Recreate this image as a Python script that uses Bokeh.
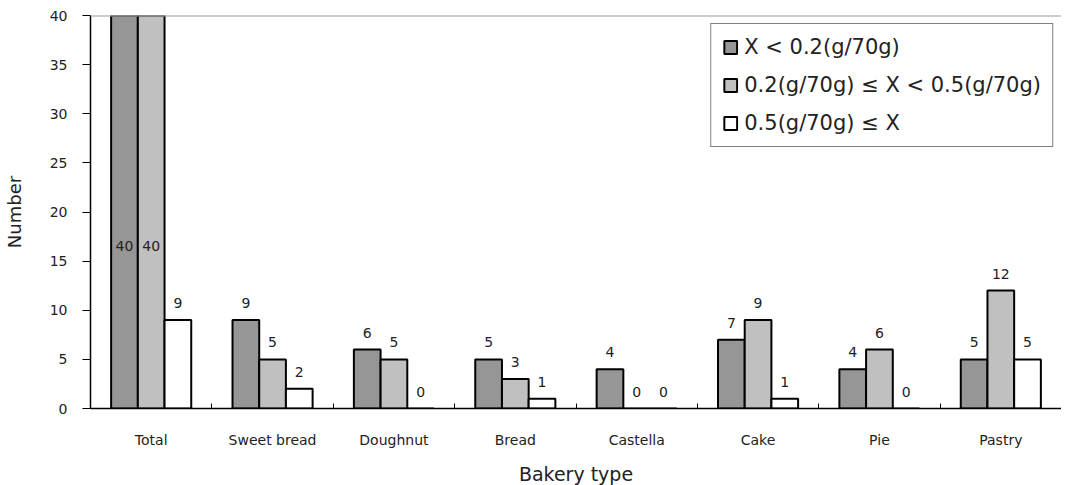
from bokeh.plotting import figure
from bokeh.models import (ColumnDataSource, Range1d, LinearAxis, FixedTicker,
                          SingleIntervalTicker, Span, Legend)
from bokeh.transform import dodge
from bokeh.core.properties import value
from bokeh.embed import file_html
from bokeh.resources import INLINE

# ---- data ----
categories = ["Total", "Sweet bread", "Doughnut", "Bread", "Castella", "Cake", "Pie", "Pastry"]
low = [40, 9, 6, 5, 4, 7, 4, 5]        # X < 0.2 (g/70g)
mid = [40, 5, 5, 3, 0, 9, 6, 12]       # 0.2 <= X < 0.5
high = [9, 2, 0, 1, 0, 1, 0, 5]        # 0.5 <= X
series_names = ["X < 0.2(g/70g)", "0.2(g/70g) \u2264 X < 0.5(g/70g)", "0.5(g/70g) \u2264 X"]
series_colors = ["#969696", "#c0c0c0", "#ffffff"]
y_max = 40
y_step = 5

FONT = "DejaVu Sans"
TXT = "#222222"

idx = list(range(len(categories)))
bar_w = 0.22
offsets = [-bar_w, 0.0, bar_w]

p = figure(width=1051, height=476, output_backend="svg", toolbar_location=None,
           x_range=Range1d(-0.5, len(categories) - 0.5), y_range=Range1d(0, y_max),
           min_border_left=86, min_border_top=15, min_border_right=0,
           frame_width=971, frame_height=393, x_axis_type=None, y_axis_type=None)
p.outline_line_color = None
p.xgrid.visible = False
p.ygrid.visible = False
p.background_fill_color = "white"

renderers = []
for vals, name, col, off in zip([low, mid, high], series_names, series_colors, offsets):
    lab_y = [v if v < y_max else y_max * 0.37 for v in vals]
    src = ColumnDataSource(dict(idx=idx, top=vals, lab=[str(v) for v in vals], lab_y=lab_y))
    r = p.vbar(x=dodge("idx", off), top="top", bottom=0, width=bar_w, source=src,
               fill_color=col, line_color="black", line_width=2)
    renderers.append((name, [r]))
    p.text(x=dodge("idx", off), y="lab_y", text="lab", source=src, y_offset=-12,
           text_align="center", text_baseline="bottom", text_font=value(FONT),
           text_font_size="14px", text_color=TXT)

# top gray line
p.add_layout(Span(location=y_max, dimension="width", line_color="#999999", line_width=2))

# x axis
xaxis = LinearAxis(ticker=FixedTicker(ticks=idx, minor_ticks=[i + 0.5 for i in idx[:-1]]))
xaxis.major_label_overrides = {i: c for i, c in zip(idx, categories)}
xaxis.major_tick_in = 0
xaxis.major_tick_out = 0
xaxis.minor_tick_in = 5
xaxis.minor_tick_out = 0
xaxis.minor_tick_line_color = "black"
xaxis.axis_line_color = "black"
xaxis.axis_line_width = 1.5
xaxis.major_label_standoff = 23
xaxis.major_label_text_font = FONT
xaxis.major_label_text_font_size = "14px"
xaxis.major_label_text_color = TXT
xaxis.axis_label = "Bakery type"
xaxis.axis_label_text_font = FONT
xaxis.axis_label_text_font_size = "19px"
xaxis.axis_label_text_font_style = "normal"
xaxis.axis_label_text_color = TXT
xaxis.axis_label_standoff = 12
p.add_layout(xaxis, "below")

# y axis
yaxis = LinearAxis(ticker=SingleIntervalTicker(interval=y_step, num_minor_ticks=0))
yaxis.major_tick_in = 0
yaxis.major_tick_out = 8
yaxis.minor_tick_out = 0
yaxis.major_tick_line_color = "black"
yaxis.axis_line_color = "black"
yaxis.axis_line_width = 1.5
yaxis.major_label_standoff = 15
yaxis.major_label_text_font = FONT
yaxis.major_label_text_font_size = "14px"
yaxis.major_label_text_color = TXT
yaxis.axis_label = "Number"
yaxis.axis_label_text_font = FONT
yaxis.axis_label_text_font_size = "18px"
yaxis.axis_label_text_font_style = "normal"
yaxis.axis_label_text_color = TXT
yaxis.axis_label_standoff = 22
p.add_layout(yaxis, "left")

legend = Legend(items=renderers, location="top_right")
legend.margin = 8
legend.padding = 11
legend.spacing = 14
legend.glyph_width = 16
legend.glyph_height = 16
legend.label_standoff = 6
legend.label_text_font = FONT
legend.label_text_font_size = "21px"
legend.label_text_color = TXT
legend.border_line_color = "black"
legend.border_line_width = 1
legend.background_fill_alpha = 1
p.add_layout(legend, "center")

open("out.html", "w").write(file_html(p, INLINE))
